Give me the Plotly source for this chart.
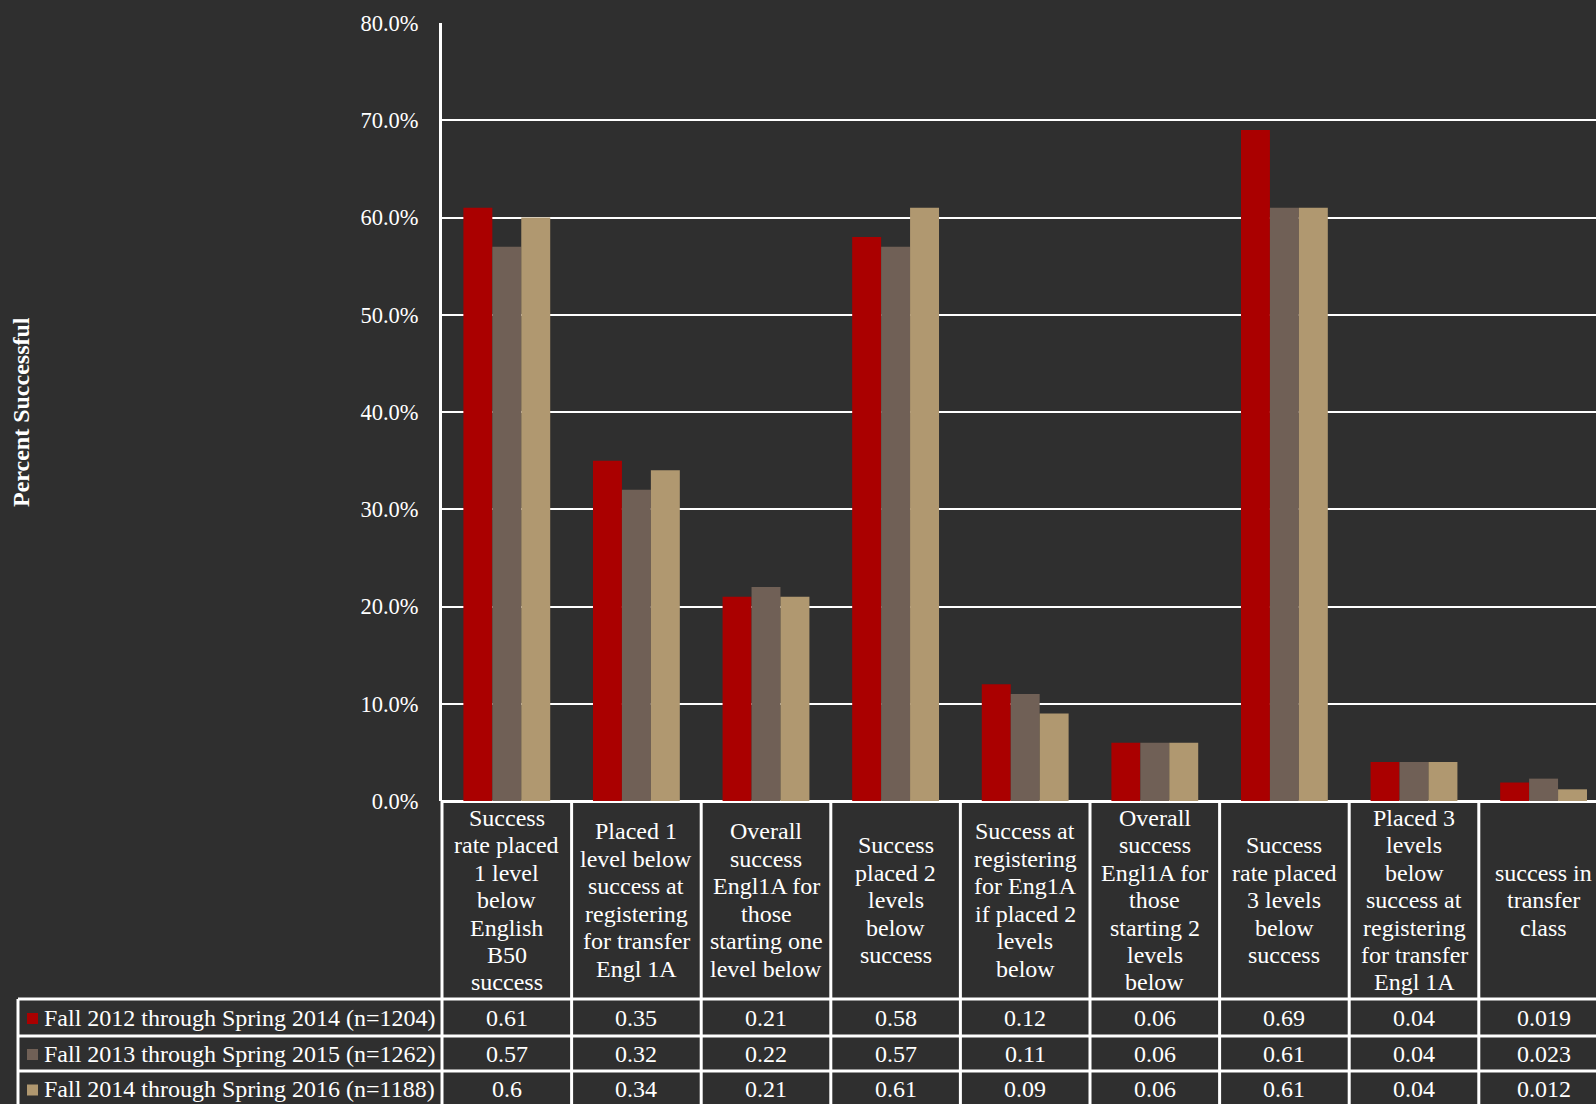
import plotly.graph_objects as go

# ---------------- data ----------------
categories = [
    "Success<br>rate placed<br>1 level<br>below<br>English<br>B50<br>success",
    "Placed 1<br>level below<br>success at<br>registering<br>for transfer<br>Engl 1A",
    "Overall<br>success<br>Engl1A for<br>those<br>starting one<br>level below",
    "Success<br>placed 2<br>levels<br>below<br>success",
    "Success at<br>registering<br>for Eng1A<br>if placed 2<br>levels<br>below",
    "Overall<br>success<br>Engl1A for<br>those<br>starting 2<br>levels<br>below",
    "Success<br>rate placed<br>3 levels<br>below<br>success",
    "Placed 3<br>levels<br>below<br>success at<br>registering<br>for transfer<br>Engl 1A",
    "success in<br>transfer<br>class",
]
series_names = [
    "Fall 2012 through Spring 2014 (n=1204)",
    "Fall 2013 through Spring 2015 (n=1262)",
    "Fall 2014 through Spring 2016 (n=1188)",
]
values_2012_2014 = [0.61, 0.35, 0.21, 0.58, 0.12, 0.06, 0.69, 0.04, 0.019]
values_2013_2015 = [0.57, 0.32, 0.22, 0.57, 0.11, 0.06, 0.61, 0.04, 0.023]
values_2014_2016 = [0.6, 0.34, 0.21, 0.61, 0.09, 0.06, 0.61, 0.04, 0.012]
series_values = [values_2012_2014, values_2013_2015, values_2014_2016]
y_tick_values = [0, 0.1, 0.2, 0.3, 0.4, 0.5, 0.6, 0.7, 0.8]
y_title = "Percent Successful"

# ---------------- styling ----------------
series_colors = ["#aa0000", "#706056", "#b09870"]
BG = "#2f2f2f"
FONT = "Liberation Serif"
W, H = 1596, 1104
ML, MT = 442, 23
BASE_Y = 801          # pixel row of the plot bottom
PW = W - ML
PH = BASE_Y - MT
CAT_W = 129.6
XR0 = -0.5
XR1 = XR0 + PW / CAT_W

def px_x(px):
    return (px - ML) / PW

def px_y(py):
    return (BASE_Y - py) / PH

def cat_x(v):
    return (v - XR0) / (XR1 - XR0)

fig = go.Figure()
for name, vals, col in zip(series_names, series_values, series_colors):
    fig.add_trace(go.Bar(x=categories, y=vals, name=name,
                         marker=dict(color=col, line=dict(width=0))))

HEADER_BOTTOM = 999
ROW_BOUNDS = [999, 1036, 1071, 1107]
LEGEND_LEFT = 18
LINE_H = 27.5

shapes = []
annotations = []
white = "#ffffff"

# y-axis line extended down through table
shapes.append(dict(type="line", xref="paper", yref="paper",
                   x0=0, x1=0, y0=0, y1=px_y(H + 10),
                   line=dict(color=white, width=3)))
# category boundaries in table
for i in range(1, len(categories) + 1):
    xp = cat_x(i - 0.5)
    shapes.append(dict(type="line", xref="paper", yref="paper",
                       x0=xp, x1=xp, y0=0, y1=px_y(H + 10),
                       line=dict(color=white, width=3)))
# row lines
for rb in ROW_BOUNDS:
    shapes.append(dict(type="line", xref="paper", yref="paper",
                       x0=px_x(LEGEND_LEFT), x1=1.0, y0=px_y(rb), y1=px_y(rb),
                       line=dict(color=white, width=3)))
# legend column left edge
shapes.append(dict(type="line", xref="paper", yref="paper",
                   x0=px_x(LEGEND_LEFT), x1=px_x(LEGEND_LEFT),
                   y0=px_y(ROW_BOUNDS[0]), y1=px_y(H + 10),
                   line=dict(color=white, width=3)))

# header text (one annotation per line for exact line spacing)
hc = (BASE_Y + HEADER_BOTTOM) / 2
for i, cat in enumerate(categories):
    lines = cat.split("<br>")
    n = len(lines)
    for k, ln in enumerate(lines):
        py = hc + (k - (n - 1) / 2) * LINE_H
        annotations.append(dict(text=ln, xref="paper", yref="paper",
                                x=cat_x(i), y=px_y(py), xanchor="center",
                                yanchor="middle", showarrow=False,
                                font=dict(family=FONT, size=24, color=white)))

# data rows
for r, (name, vals, col) in enumerate(zip(series_names, series_values, series_colors)):
    cy = (ROW_BOUNDS[r] + ROW_BOUNDS[r + 1]) / 2
    shapes.append(dict(type="rect", xref="paper", yref="paper",
                       x0=px_x(27), x1=px_x(38), y0=px_y(cy - 4.5), y1=px_y(cy + 6.5),
                       fillcolor=col, line=dict(width=0)))
    annotations.append(dict(text=name, xref="paper", yref="paper",
                            x=px_x(42), y=px_y(cy), xanchor="left", yanchor="middle",
                            showarrow=False,
                            font=dict(family=FONT, size=24, color=white)))
    for i, v in enumerate(vals):
        annotations.append(dict(text=str(v), xref="paper", yref="paper",
                                x=cat_x(i), y=px_y(cy), xanchor="center",
                                yanchor="middle", showarrow=False,
                                font=dict(family=FONT, size=24, color=white)))

# y-axis title
annotations.append(dict(text="<b>%s</b>" % y_title, xref="paper", yref="paper",
                        x=px_x(21), y=0.5, xanchor="center", yanchor="middle",
                        textangle=-90, showarrow=False,
                        font=dict(family=FONT, size=24, color=white)))

fig.update_layout(
    width=W, height=H,
    margin=dict(l=ML, r=0, t=MT, b=H - BASE_Y, pad=0),
    paper_bgcolor=BG, plot_bgcolor=BG,
    barmode="group", bargap=0.33, bargroupgap=0,
    showlegend=False,
    shapes=shapes, annotations=annotations,
    font=dict(family=FONT, color=white),
)
fig.update_xaxes(range=[XR0, XR1], showticklabels=False, showgrid=False,
                 zeroline=False, showline=False, ticks="")
fig.update_yaxes(range=[0, 0.8], tickvals=y_tick_values, tickformat=".1%",
                 showgrid=True, gridcolor=white, gridwidth=2,
                 zeroline=True, zerolinecolor=white, zerolinewidth=3,
                 showline=True, linecolor=white, linewidth=3,
                 ticks="", ticklabelstandoff=16,
                 tickfont=dict(family=FONT, size=22.5, color=white))

fig.write_html(
    "out.html",
    config={"displayModeBar": False},
    post_script="document.body.style.margin='0';document.body.style.padding='0';"
                "document.body.style.background='%s';"
                "document.body.style.overflow='hidden';" % BG,
)
